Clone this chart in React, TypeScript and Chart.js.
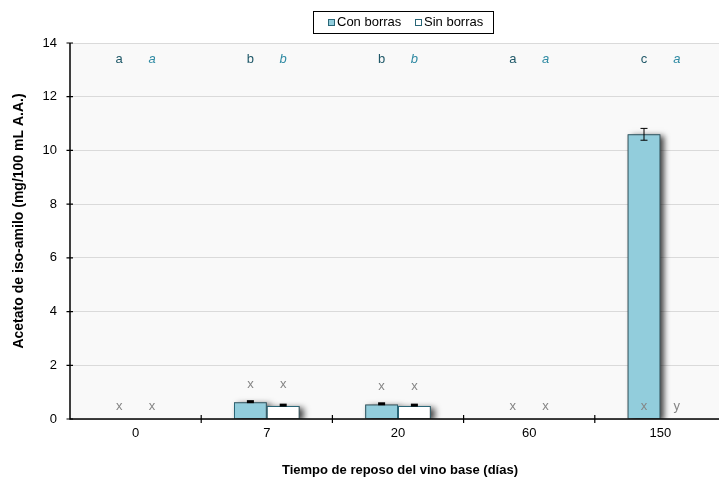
import React, { useEffect, useRef } from "react";
import { Chart, registerables } from "chart.js";

Chart.register(...registerables);

const categories = ["0", "7", "20", "60", "150"];
const conBorras = [0, 0.62, 0.54, 0, 10.6];
const sinBorras = [0, 0.48, 0.48, 0, 0];
const conErr = [0, 0.03, 0.03, 0, 0.22];
const sinErr = [0, 0.02, 0.02, 0, 0];
const topLettersCon = ["a", "b", "b", "a", "c"];
const topLettersSin = ["a", "b", "b", "a", "a"];
const topLetterLevel = 13.4;
const lowLettersCon = ["x", "x", "x", "x", "x"];
const lowLettersSin = ["x", "x", "x", "x", "y"];
const lowLetterLevel = [0.48, 1.27, 1.23, 0.48, 0.48];
const yTicks = [0, 2, 4, 6, 8, 10, 12, 14];

const FONT = "Liberation Sans, Arial, sans-serif";
const FILL = "#92cddc";
const EDGE = "#2a6677";

const customPlugin = {
  id: "custom",
  beforeDraw(chart: any) {
    const { ctx, chartArea } = chart;
    ctx.save();
    ctx.fillStyle = "#ffffff";
    ctx.fillRect(0, 0, chart.width, chart.height);
    ctx.fillStyle = "#f9f9f9";
    ctx.fillRect(chartArea.left, chartArea.top, chartArea.right - chartArea.left, chartArea.bottom - chartArea.top);
    ctx.restore();
  },
  beforeDatasetsDraw(chart: any) {
    const ctx = chart.ctx;
    for (let d = 0; d < 2; d++) {
      const meta = chart.getDatasetMeta(d);
      meta.data.forEach((bar: any) => {
        const p = bar.getProps(["x", "y", "base", "width"], true);
        const h = p.base - p.y;
        if (h < 0.5) return;
        ctx.save();
        ctx.beginPath();
        ctx.rect(chart.chartArea.left, chart.chartArea.top, chart.chartArea.right - chart.chartArea.left, chart.chartArea.bottom - chart.chartArea.top);
        ctx.clip();
        ctx.shadowColor = "rgba(0,0,0,0.75)";
        ctx.shadowBlur = 6;
        ctx.shadowOffsetX = 4;
        ctx.shadowOffsetY = 2;
        ctx.fillStyle = "#555";
        ctx.fillRect(p.x - p.width / 2, p.y, p.width, h);
        ctx.restore();
      });
    }
  },
  afterDatasetsDraw(chart: any) {
    const ctx = chart.ctx;
    const y = chart.scales.y;
    const errs = [conErr, sinErr];
    const vals = [conBorras, sinBorras];
    for (let d = 0; d < 2; d++) {
      const meta = chart.getDatasetMeta(d);
      meta.data.forEach((bar: any, i: number) => {
        const e = errs[d][i];
        if (!e) return;
        const v = vals[d][i];
        const yt = y.getPixelForValue(v + e);
        const yb = y.getPixelForValue(v - e);
        ctx.save();
        ctx.strokeStyle = "#000";
        ctx.lineWidth = 1;
        if (yb - yt < 4) {
          ctx.fillStyle = "#000";
          ctx.fillRect(bar.x - 3.5, Math.min(yt, yb - 3), 7, Math.max(3, yb - yt));
        } else {
          ctx.beginPath();
          ctx.moveTo(bar.x, yt);
          ctx.lineTo(bar.x, yb);
          ctx.moveTo(bar.x - 3.5, yt);
          ctx.lineTo(bar.x + 3.5, yt);
          ctx.moveTo(bar.x - 3.5, yb);
          ctx.lineTo(bar.x + 3.5, yb);
          ctx.stroke();
        }
        ctx.restore();
      });
    }
  },
  afterDraw(chart: any) {
    const { ctx, chartArea } = chart;
    const x = chart.scales.x;
    const y = chart.scales.y;
    ctx.save();
    ctx.strokeStyle = "#000";
    ctx.lineWidth = 1.5;
    ctx.beginPath();
    ctx.moveTo(chartArea.left, chartArea.top);
    ctx.lineTo(chartArea.left, chartArea.bottom);
    ctx.lineTo(chartArea.right, chartArea.bottom);
    ctx.stroke();
    ctx.lineWidth = 1.2;
    ctx.beginPath();
    yTicks.forEach((t) => {
      const py = y.getPixelForValue(t);
      ctx.moveTo(chartArea.left - 3.5, py);
      ctx.lineTo(chartArea.left + 3, py);
    });
    const n = categories.length;
    for (let i = 1; i < n; i++) {
      const px = (x.getPixelForValue(i - 1) + x.getPixelForValue(i)) / 2;
      ctx.moveTo(px, chartArea.bottom - 4);
      ctx.lineTo(px, chartArea.bottom + 4);
    }
    ctx.stroke();

    const metaC = chart.getDatasetMeta(0);
    const metaS = chart.getDatasetMeta(1);
    ctx.textAlign = "center";
    ctx.textBaseline = "middle";
    for (let i = 0; i < n; i++) {
      const xc = metaC.data[i].x;
      const xs = metaS.data[i].x;
      const yt = y.getPixelForValue(topLetterLevel);
      ctx.font = `13px ${FONT}`;
      ctx.fillStyle = "#1f5868";
      ctx.fillText(topLettersCon[i], xc, yt);
      ctx.font = `italic 13px ${FONT}`;
      ctx.fillStyle = "#2f8aa3";
      ctx.fillText(topLettersSin[i], xs, yt);
      const yl = y.getPixelForValue(lowLetterLevel[i]);
      ctx.font = `13px ${FONT}`;
      ctx.fillStyle = "#858585";
      ctx.fillText(lowLettersCon[i], xc, yl);
      ctx.fillText(lowLettersSin[i], xs, yl);
    }

    ctx.fillStyle = "#000";
    ctx.font = `bold 13px ${FONT}`;
    ctx.fillText("Tiempo de reposo del vino base (días)", 400, 470);
    ctx.save();
    ctx.translate(19, 221);
    ctx.rotate(-Math.PI / 2);
    ctx.font = `bold 14px ${FONT}`;
    ctx.fillText("Acetato de iso-amilo (mg/100 mL A.A.)", 0, 0);
    ctx.restore();

    ctx.fillStyle = "#fff";
    ctx.fillRect(313, 11, 180, 22);
    ctx.strokeStyle = "#000";
    ctx.lineWidth = 1;
    ctx.strokeRect(313.5, 11.5, 180, 22);
    ctx.font = `13px ${FONT}`;
    ctx.textAlign = "left";
    ctx.textBaseline = "middle";
    const items = [
      { label: "Con borras", fill: FILL, sx: 328 },
      { label: "Sin borras", fill: "#ffffff", sx: 415 },
    ];
    items.forEach((it) => {
      ctx.fillStyle = it.fill;
      ctx.fillRect(it.sx, 19, 6, 6);
      ctx.strokeStyle = EDGE;
      ctx.strokeRect(it.sx + 0.5, 19.5, 6, 6);
      ctx.fillStyle = "#000";
      ctx.fillText(it.label, it.sx + 9, 22.5);
    });
    ctx.restore();
  },
};

export default function App() {
  const ref = useRef<HTMLCanvasElement | null>(null);
  useEffect(() => {
    document.body.style.margin = "0";
    const canvas = ref.current;
    if (!canvas) return;
    const chart = new Chart(canvas, {
      type: "bar",
      data: {
        labels: categories,
        datasets: [
          {
            label: "Con borras",
            data: conBorras,
            backgroundColor: FILL,
            borderColor: EDGE,
            borderWidth: 1,
            categoryPercentage: 0.5,
            barPercentage: 1,
          },
          {
            label: "Sin borras",
            data: sinBorras,
            backgroundColor: "#ffffff",
            borderColor: EDGE,
            borderWidth: 1,
            categoryPercentage: 0.5,
            barPercentage: 1,
          },
        ],
      },
      options: {
        responsive: false,
        animation: false,
        devicePixelRatio: 1,
        layout: { padding: { left: 0, right: 14, top: 43, bottom: 0 } },
        plugins: {
          legend: { display: false },
          tooltip: { enabled: false },
        },
        scales: {
          x: {
            grid: { display: false, drawTicks: false },
            border: { display: false },
            ticks: { font: { family: FONT, size: 13 }, color: "#000", padding: 7 },
            afterFit: (s: any) => {
              s.height = 59;
            },
          },
          y: {
            min: 0,
            max: 14,
            grid: { color: "#dadada", drawTicks: false, lineWidth: 1 },
            border: { display: false },
            ticks: { stepSize: 2, font: { family: FONT, size: 13 }, color: "#000", padding: 13 },
            afterFit: (s: any) => {
              s.width = 70;
            },
          },
        },
      },
      plugins: [customPlugin],
    });
    return () => chart.destroy();
  }, []);
  return (
    <div style={{ position: "fixed", left: 0, top: 0, width: 719, height: 478, overflow: "hidden", background: "#fff" }}>
      <canvas ref={ref} width={740} height={478} style={{ display: "block" }} />
    </div>
  );
}
